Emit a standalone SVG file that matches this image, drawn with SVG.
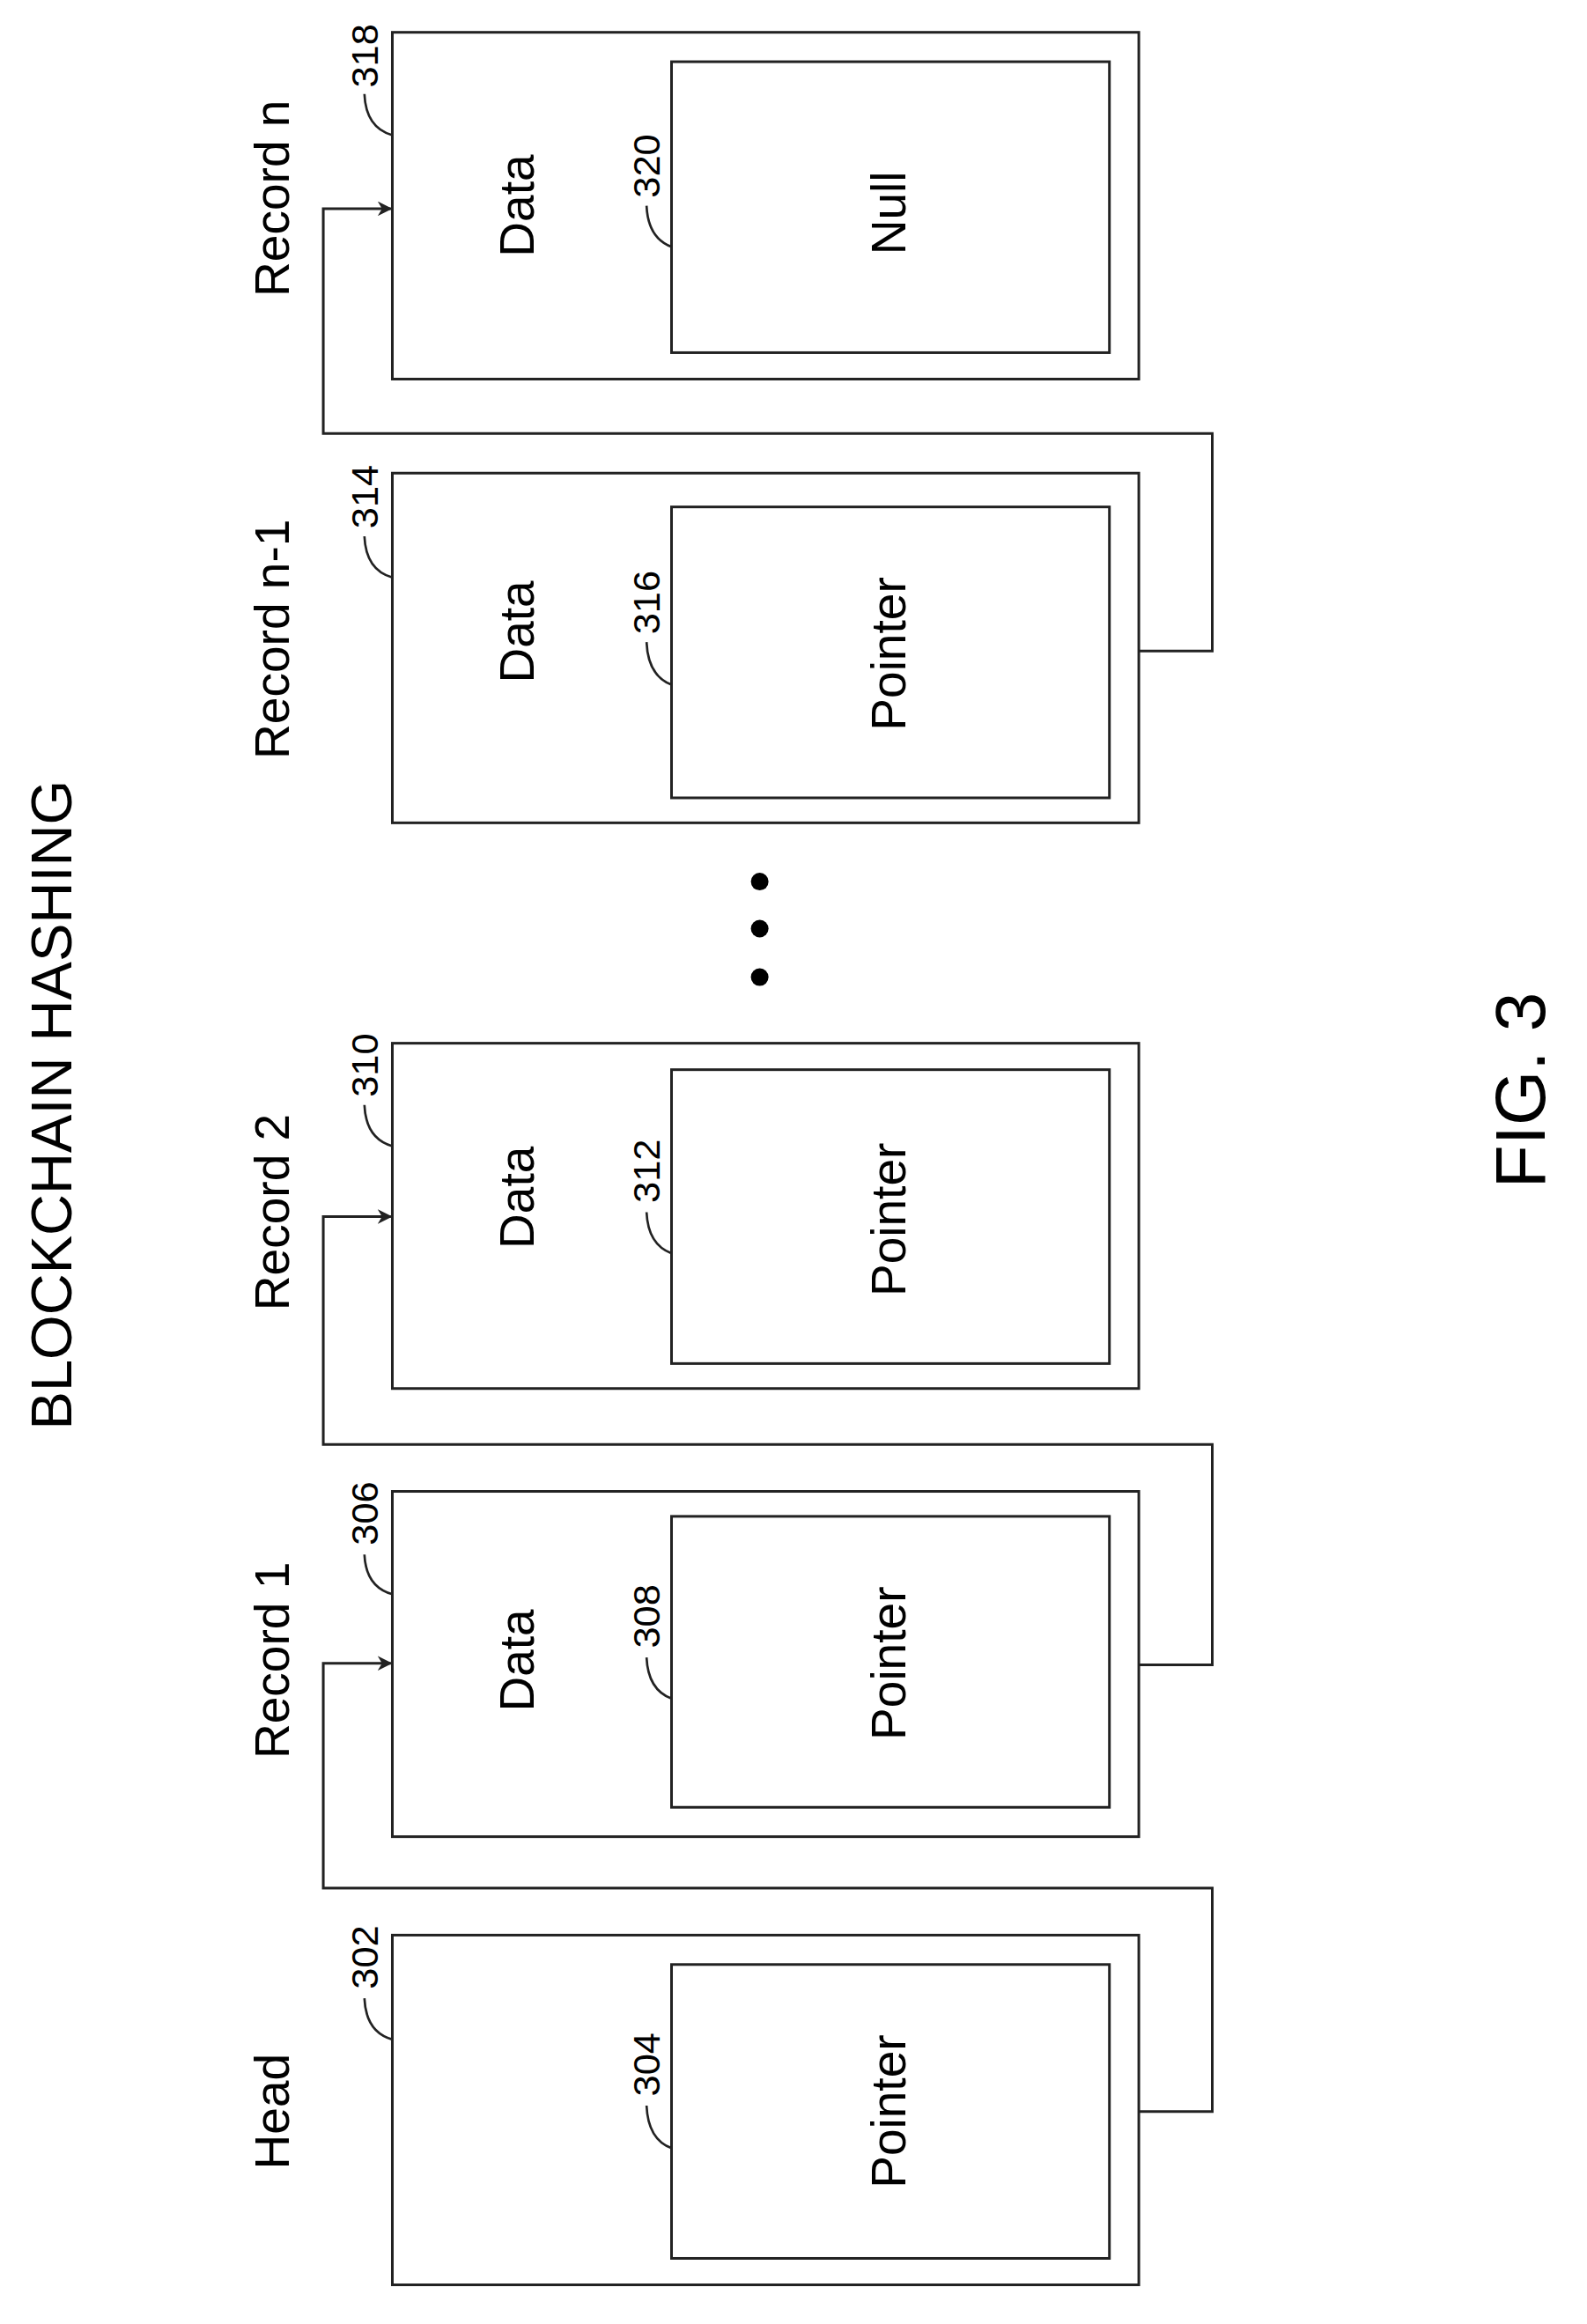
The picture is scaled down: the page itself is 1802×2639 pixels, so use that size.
<svg xmlns="http://www.w3.org/2000/svg" width="1802" height="2639" viewBox="0 0 1802 2639">
<style>
.b{fill:none;stroke:#222;stroke-width:1.8}
.c{fill:none;stroke:#222;stroke-width:1.6}
.t{font-family:"Liberation Sans",Arial,sans-serif;font-size:33px;fill:#000;text-anchor:middle;dominant-baseline:central}
.n{font-size:26px}
</style>
<defs><marker id="a" markerWidth="10" markerHeight="10" refX="9" refY="5" orient="auto" markerUnits="userSpaceOnUse"><path d="M0,0 L10,5 L0,10 L3,5 Z" fill="#222"/></marker></defs>
<rect width="1802" height="2639" fill="#fff"/>
<g transform="scale(1.6685)">
<text class="t" transform="translate(35,752) rotate(-90)" style="font-size:39px">BLOCKCHAIN HASHING</text>
<text class="t" transform="translate(1035,742) rotate(-90)" style="font-size:48px">FIG. 3</text>
<g id="head">
<rect class="b" x="267" y="1317" width="508" height="238"/><rect class="b" x="457" y="1337" width="298" height="200"/>
<text class="t" transform="translate(185,1437) rotate(-90)">Head</text>
<text class="t" transform="translate(605,1437) rotate(-90)">Pointer</text>
<text class="t n" transform="translate(248,1332) rotate(-90)">302</text><path class="c" d="M248,1360 Q249,1383 267,1388"/>
<text class="t n" transform="translate(440,1405) rotate(-90)">304</text><path class="c" d="M440,1433 Q441,1456 457,1462"/>
</g>
<g id="rec1">
<rect class="b" x="267" y="1015" width="508" height="235"/><rect class="b" x="457" y="1032" width="298" height="198"/>
<text class="t" transform="translate(185,1130) rotate(-90)">Record 1</text>
<text class="t" transform="translate(352,1130) rotate(-90)">Data</text>
<text class="t" transform="translate(605,1132) rotate(-90)">Pointer</text>
<text class="t n" transform="translate(248,1030) rotate(-90)">306</text><path class="c" d="M248,1058 Q249,1080 267,1085"/>
<text class="t n" transform="translate(440,1100) rotate(-90)">308</text><path class="c" d="M440,1128 Q441,1150 457,1156"/>
</g>
<g id="rec2">
<rect class="b" x="267" y="710" width="508" height="235"/><rect class="b" x="457" y="728" width="298" height="200"/>
<text class="t" transform="translate(185,825) rotate(-90)">Record 2</text>
<text class="t" transform="translate(352,815) rotate(-90)">Data</text>
<text class="t" transform="translate(605,830) rotate(-90)">Pointer</text>
<text class="t n" transform="translate(248,725) rotate(-90)">310</text><path class="c" d="M248,752 Q249,775 267,780"/>
<text class="t n" transform="translate(440,797) rotate(-90)">312</text><path class="c" d="M440,825 Q441,847 457,853"/>
</g>
<g id="recn1">
<rect class="b" x="267" y="322" width="508" height="238"/><rect class="b" x="457" y="345" width="298" height="198"/>
<text class="t" transform="translate(185,435) rotate(-90)">Record n-1</text>
<text class="t" transform="translate(352,430) rotate(-90)">Data</text>
<text class="t" transform="translate(605,445) rotate(-90)">Pointer</text>
<text class="t n" transform="translate(248,338) rotate(-90)">314</text><path class="c" d="M248,365 Q249,388 267,393"/>
<text class="t n" transform="translate(440,410) rotate(-90)">316</text><path class="c" d="M440,437 Q441,460 457,466"/>
</g>
<g id="recn">
<rect class="b" x="267" y="22" width="508" height="236"/><rect class="b" x="457" y="42" width="298" height="198"/>
<text class="t" transform="translate(185,135) rotate(-90)">Record n</text>
<text class="t" transform="translate(352,140) rotate(-90)">Data</text>
<text class="t" transform="translate(605,145) rotate(-90)">Null</text>
<text class="t n" transform="translate(248,38) rotate(-90)">318</text><path class="c" d="M248,64 Q249,87 267,92"/>
<text class="t n" transform="translate(440,113) rotate(-90)">320</text><path class="c" d="M440,140 Q441,162 457,168"/>
</g>
<g id="dots" fill="#000"><circle cx="517" cy="600" r="6"/><circle cx="517" cy="632" r="6"/><circle cx="517" cy="665" r="6"/></g>
<g id="connectors" class="b">
<path class="b" marker-end="url(#a)" d="M775,1437 H825 V1285 H220 V1132 H266"/>
<path class="b" marker-end="url(#a)" d="M775,1133 H825 V983 H220 V828 H266"/>
<path class="b" marker-end="url(#a)" d="M775,443 H825 V295 H220 V142 H266"/>
</g>
</g>
</svg>
